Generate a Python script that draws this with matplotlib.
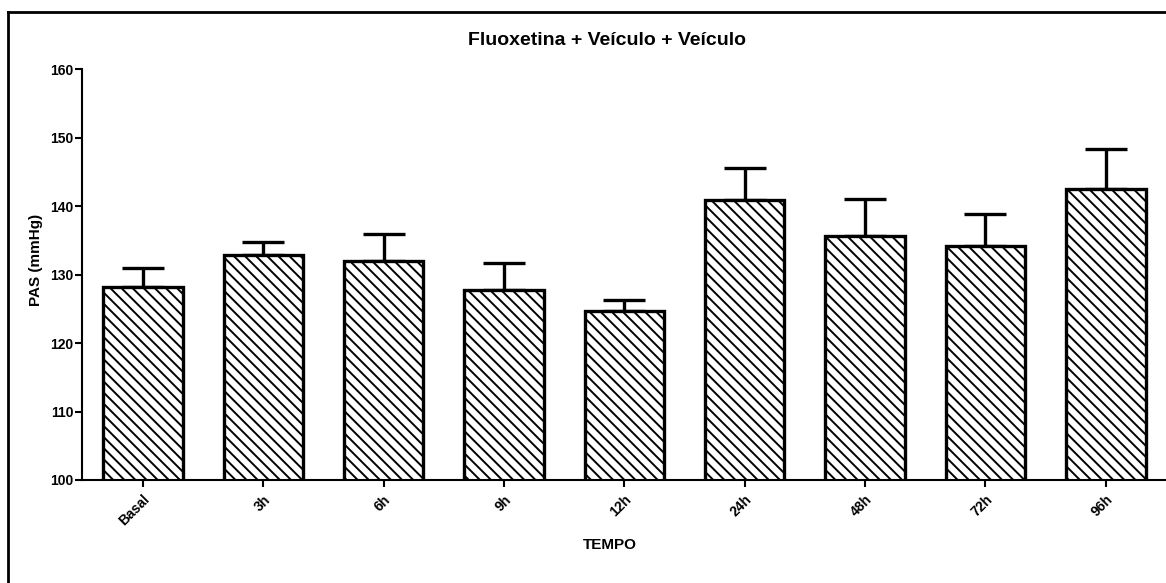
import numpy as np
import matplotlib
matplotlib.use("Agg")
from matplotlib import pyplot as plt
from matplotlib.lines import Line2D

categories = ["Basal", "3h", "6h", "9h", "12h", "24h", "48h", "72h", "96h"]
pasMean = [128.2, 132.9, 132.0, 127.8, 124.7, 140.9, 135.7, 134.2, 142.5]
pasSem = [2.8, 1.8, 4.0, 3.9, 1.6, 4.7, 5.4, 4.6, 5.9]
yTicks = [100, 110, 120, 130, 140, 150, 160]

plt.rcParams["font.family"] = ["Liberation Sans", "DejaVu Sans"]
plt.rcParams["font.weight"] = "bold"
plt.rcParams["hatch.linewidth"] = 1.4
plt.rcParams["hatch.color"] = "black"

fig = plt.figure(figsize=(11.66, 5.83), dpi=100)
ax = fig.add_axes([0.0703, 0.1767, 0.9297, 0.7044])

x = np.arange(len(categories))
ax.bar(x, pasMean, width=0.66, color="white", edgecolor="black",
       linewidth=2.4, hatch="\\\\\\", zorder=2)
ax.errorbar(x, pasMean, yerr=[np.zeros(len(pasSem)), pasSem], fmt="none",
            ecolor="black", elinewidth=2.4, capsize=15, capthick=2.4, zorder=1)

ax.set_xlim(-0.506, 8.5)
ax.set_ylim(100, 160)
ax.set_yticks(yTicks)
ax.set_xticks(x)
ax.set_xticklabels(categories, rotation=45, ha="right", va="top",
                   rotation_mode="anchor", fontsize=10, fontweight="bold")
ax.tick_params(axis="y", direction="out", length=5, width=1.5, labelsize=10, pad=1)
ax.tick_params(axis="x", direction="out", length=5, width=1.5, pad=4)
for lbl in ax.get_yticklabels():
    lbl.set_fontweight("bold")

for side in ["top", "right"]:
    ax.spines[side].set_visible(False)
ax.spines["left"].set_linewidth(1.5)
ax.spines["bottom"].set_linewidth(1.5)

ax.set_ylabel("PAS (mmHg)", fontsize=11, fontweight="bold")
ax.yaxis.set_label_coords(-0.036, 0.535)
fig.text(610 / 1166, 1 - 545 / 583, "TEMPO", ha="center", va="center",
         fontsize=11, fontweight="bold")
fig.text(607 / 1166, 1 - 45 / 583, "Fluoxetina + Veículo + Veículo",
         ha="center", va="baseline", fontsize=14, fontweight="bold")

# outer frame (left and top edges only)
fig.add_artist(Line2D([7.5 / 1166, 7.5 / 1166], [0, 1 - 12 / 583],
                      transform=fig.transFigure, color="black", linewidth=2))
fig.add_artist(Line2D([7.5 / 1166, 1], [1 - 12 / 583, 1 - 12 / 583],
                      transform=fig.transFigure, color="black", linewidth=2))

fig.savefig("out.png", dpi=100)
